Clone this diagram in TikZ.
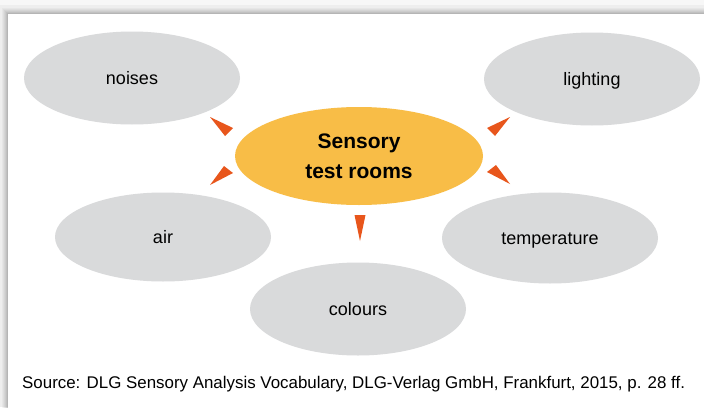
\documentclass[tikz,border=0pt]{standalone}
\usepackage{fontspec}
\setmainfont{Liberation Sans}
\usetikzlibrary{shapes.geometric}
\definecolor{bubble}{RGB}{217,218,219}
\definecolor{hub}{RGB}{248,189,71}
\definecolor{wedge}{RGB}{232,86,28}
\definecolor{backdrop}{RGB}{238,238,238}
\tikzset{
  topic/.style={ellipse, fill=bubble, minimum width=216pt, minimum height=93pt, inner sep=0pt,
    font=\fontsize{18}{20}\selectfont, text=black, text height=14pt, text depth=2pt},
  centre/.style={ellipse, fill=hub, minimum width=248pt, minimum height=98pt, inner sep=0pt,
    font=\fontsize{21}{30}\selectfont\bfseries, align=center, text=black},
  wedgefill/.style={fill=wedge, draw=none},
}
\begin{document}
\begin{tikzpicture}[x=1pt,y=-1pt]
\useasboundingbox (0,0) rectangle (704,407);
\fill[backdrop] (0,0) rectangle (704,407);
\fill[white!97!black] (0,0) rectangle (704,5);
\foreach \s/\o in {6/0.03,5/0.03,4/0.04,3/0.04,2/0.05,1/0.06}{
  \fill[black,opacity=\o] (8-\s,14-\s) rectangle (712,415);
}
\fill[white] (8,14) rectangle (712,415);

\node[topic] (noises) at (132,78) {noises};
\node[topic] (lighting) at (592,79) {lighting};
\node[topic, minimum height=89pt] (air) at (163,237) {air};
\node[topic, minimum height=91pt] (temp) at (550,238) {temperature};
\node[topic] (colours) at (358,309) {colours};
\node[centre] (hub) at (359,156) {Sensory\\test rooms};

% wedges pointing outwards from the hub
\fill[wedgefill] (210,117) -- (233,128) -- (225,136) -- cycle;
\fill[wedgefill] (210,185) -- (233,173) -- (224,166) -- cycle;
\fill[wedgefill] (510,117) -- (487,128) -- (495,136) -- cycle;
\fill[wedgefill] (510,184) -- (487,172) -- (496,165) -- cycle;
\fill[wedgefill] (360,241) -- (354.5,215) -- (365.5,215) -- cycle;

\node[anchor=base west, font=\fontsize{16.9}{18}\selectfont, inner sep=0pt] (src) at (22,388)
  {Source: DLG Sensory Analysis Vocabulary, DLG-Verlag GmbH, Frankfurt, 2015, p. 28 ff.};
\end{tikzpicture}
\end{document}
